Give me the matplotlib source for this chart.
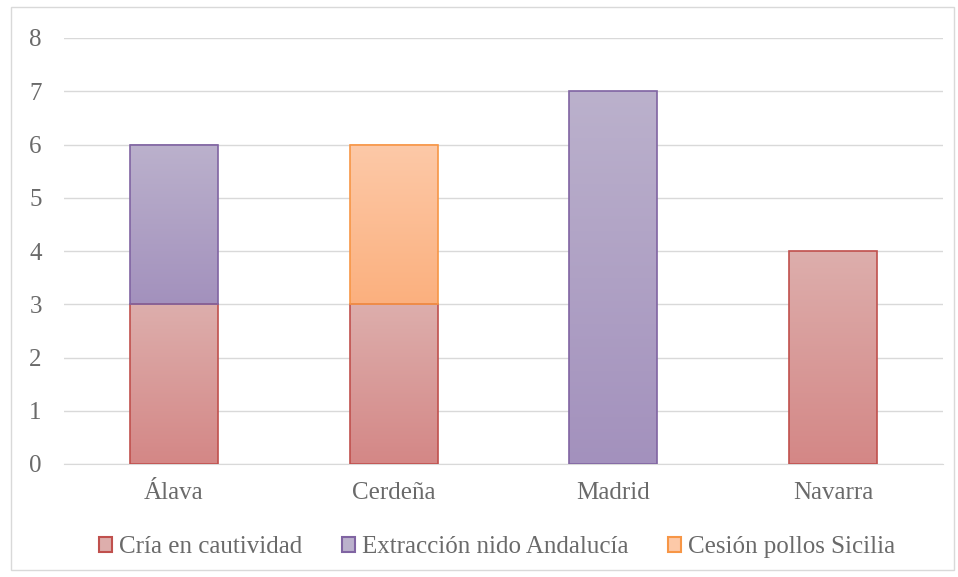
import numpy as np
import matplotlib.pyplot as plt
from matplotlib.patches import Rectangle
from matplotlib.colors import LinearSegmentedColormap

plt.rcParams['font.family'] = ['Liberation Serif', 'DejaVu Serif']

regions = ['Álava', 'Cerdeña', 'Madrid', 'Navarra']
cria = [3, 3, 0, 4]
extraccion = [3, 0, 7, 0]
cesion = [0, 3, 0, 0]
series_names = ['Cría en cautividad', 'Extracción nido Andalucía', 'Cesión pollos Sicilia']

edge_cols = ['#c0504d', '#8064a2', '#f79646']
top_cols = ['#ddaeac', '#bbb1cc', '#fdc9a8']
bot_cols = ['#d48786', '#a391bd', '#fbb07e']
text_col = '#6a6a6a'

fig = plt.figure(figsize=(9.58, 5.77), dpi=100)
fig.patches.append(Rectangle((11 / 958, 7 / 577), 943 / 958, 563 / 577,
                             transform=fig.transFigure, fill=False,
                             edgecolor='#d9d9d9', linewidth=1))
ax = fig.add_axes([64 / 958, 1 - 464 / 577, 879 / 958, 426 / 577])

x = np.arange(len(regions))
bottom = np.zeros(len(regions))
handles = []
for vals, name, ec, tc, bc in zip([cria, extraccion, cesion], series_names,
                                  edge_cols, top_cols, bot_cols):
    vals = np.array(vals, dtype=float)
    bars = ax.bar(x, vals, 0.4, bottom=bottom, color='none', edgecolor=ec,
                  linewidth=1.2, zorder=3)
    # vertical gradient inside each bar segment (lighter on top)
    cmap = LinearSegmentedColormap.from_list(name, [bc, tc])
    grad = np.linspace(0, 1, 256).reshape(-1, 1)
    for b in bars:
        if b.get_height() <= 0:
            b.set_visible(False)
            continue
        x0, y0 = b.get_x(), b.get_y()
        ax.imshow(grad, cmap=cmap, origin='lower', aspect='auto',
                  extent=(x0, x0 + b.get_width(), y0, y0 + b.get_height()),
                  zorder=2)
    handles.append(Rectangle((0, 0), 1, 1, facecolor=tc, edgecolor=ec, linewidth=1.5))
    bottom += vals

ax.set_xlim(-0.5, 3.5)
ax.set_ylim(0, 8)
ax.set_yticks(range(0, 9))
ax.set_xticks(x)
ax.set_xticklabels(regions)
ax.grid(axis='y', color='#d9d9d9', linewidth=1, zorder=0)
ax.tick_params(axis='both', length=0, labelsize=18, labelcolor=text_col)
ax.tick_params(axis='x', pad=13)
ax.tick_params(axis='y', pad=16)
for s in ['top', 'right', 'left']:
    ax.spines[s].set_visible(False)
ax.spines['bottom'].set_color('#d9d9d9')

fig.legend(handles, series_names, loc='center',
           bbox_to_anchor=(0.5 + 18 / 958, 1 - 547 / 577),
           ncol=3, frameon=False, fontsize=18, labelcolor=text_col,
           handlelength=0.5, handleheight=0.55, handletextpad=0.28, columnspacing=1.6)

fig.savefig('out.png', dpi=100)
